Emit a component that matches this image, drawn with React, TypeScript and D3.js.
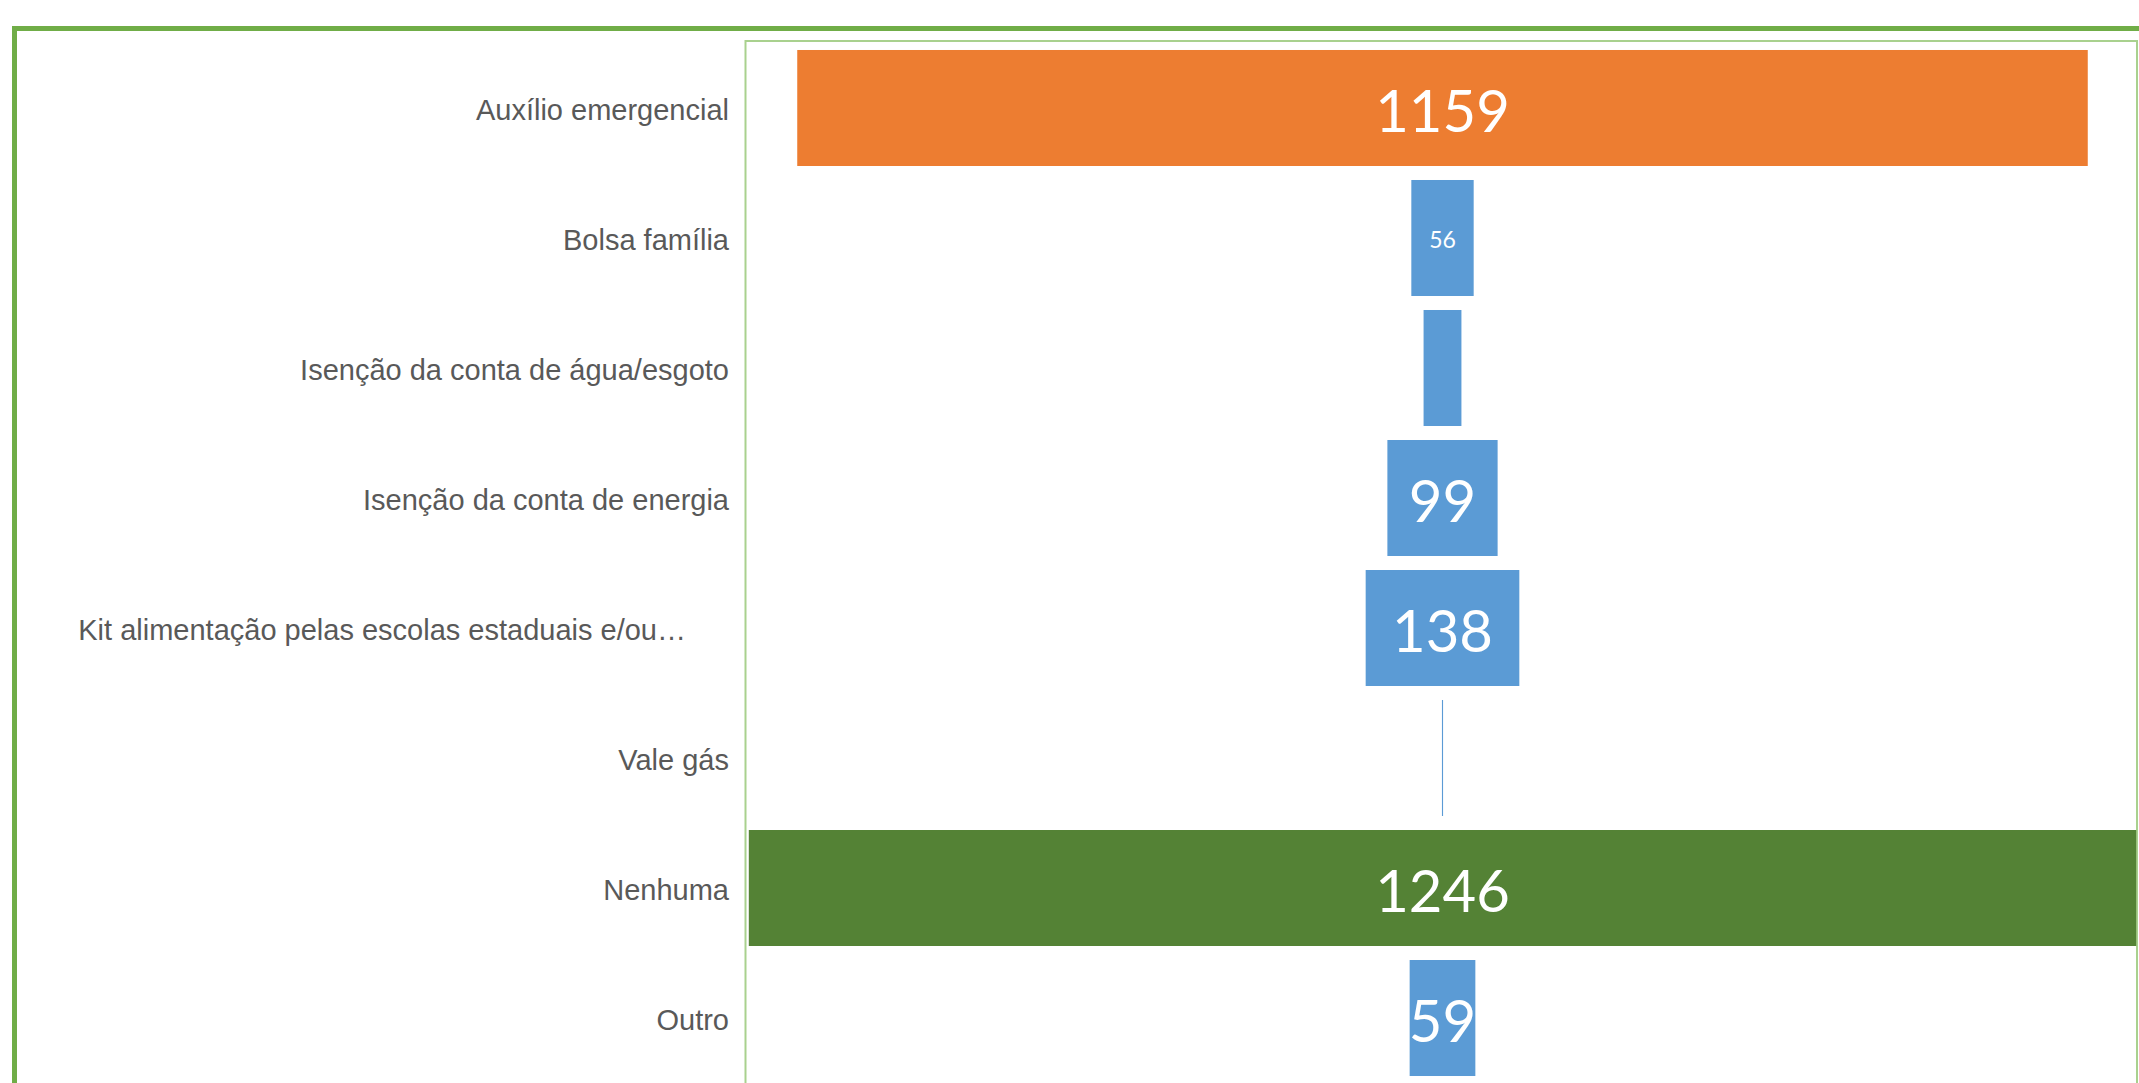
import React from "react";
import * as d3 from "d3";

const categories = [
  "Auxílio emergencial",
  "Bolsa família",
  "Isenção da conta de água/esgoto",
  "Isenção da conta de energia",
  "Kit alimentação pelas escolas estaduais e/ou…",
  "Vale gás",
  "Nenhuma",
  "Outro",
];
const values = [1159, 56, 34, 99, 138, 1, 1246, 59];
const shownLabels = ["1159", "56", "", "99", "138", "", "1246", "59"];

const W = 2139;
const H = 1083;

const colorFor = (c: string) =>
  c === "Auxílio emergencial" ? "#ED7D31" : c === "Nenhuma" ? "#548235" : "#5B9BD5";

export default function App() {
  const plotTop = 43;
  const plotBottom = 1083;
  const cx = 1442.5;

  const y = d3
    .scaleBand<string>()
    .domain(categories)
    .range([plotTop, plotBottom])
    .paddingInner(0.1077)
    .paddingOuter(0.0538);

  const w = d3.scaleLinear().domain([0, 1246]).range([0, 1387.4]);

  return (
    <svg
      width={W}
      height={H}
      style={{ position: "absolute", left: 0, top: 0, background: "#fff" }}
    >
      <rect x={0} y={0} width={W} height={H} fill="#fff" />
      {/* outer chart border */}
      <rect x={14.5} y={28.5} width={3000} height={3000} fill="none" stroke="#70AD47" strokeWidth={5} />
      {/* plot area border */}
      <rect x={745.5} y={41} width={1391.5} height={3000} fill="none" stroke="#A9D18E" strokeWidth={2} />

      {categories.map((c, i) => {
        const by = y(c)!;
        const bw = w(values[i]);
        const mid = by + y.bandwidth() / 2;
        const isKit = i === 4;
        const lab = shownLabels[i];
        const small = lab === "56";
        return (
          <g key={c}>
            <rect x={cx - bw / 2} y={by} width={bw} height={y.bandwidth()} fill={colorFor(c)} />
            <text
              x={isKit ? 686 : 729}
              y={mid + 12}
              textAnchor="end"
              fontFamily="'Liberation Sans', Arial, sans-serif"
              fontSize={29}
              fill="#595959"
            >
              {c}
            </text>
            {lab && (
              <text
                x={cx}
                y={mid + (small ? 10 : 24)}
                textAnchor="middle"
                fontFamily="Lato, 'Open Sans', sans-serif"
                fontSize={small ? 23 : 58}
                fill="#fff"
              >
                {lab}
              </text>
            )}
          </g>
        );
      })}
    </svg>
  );
}
